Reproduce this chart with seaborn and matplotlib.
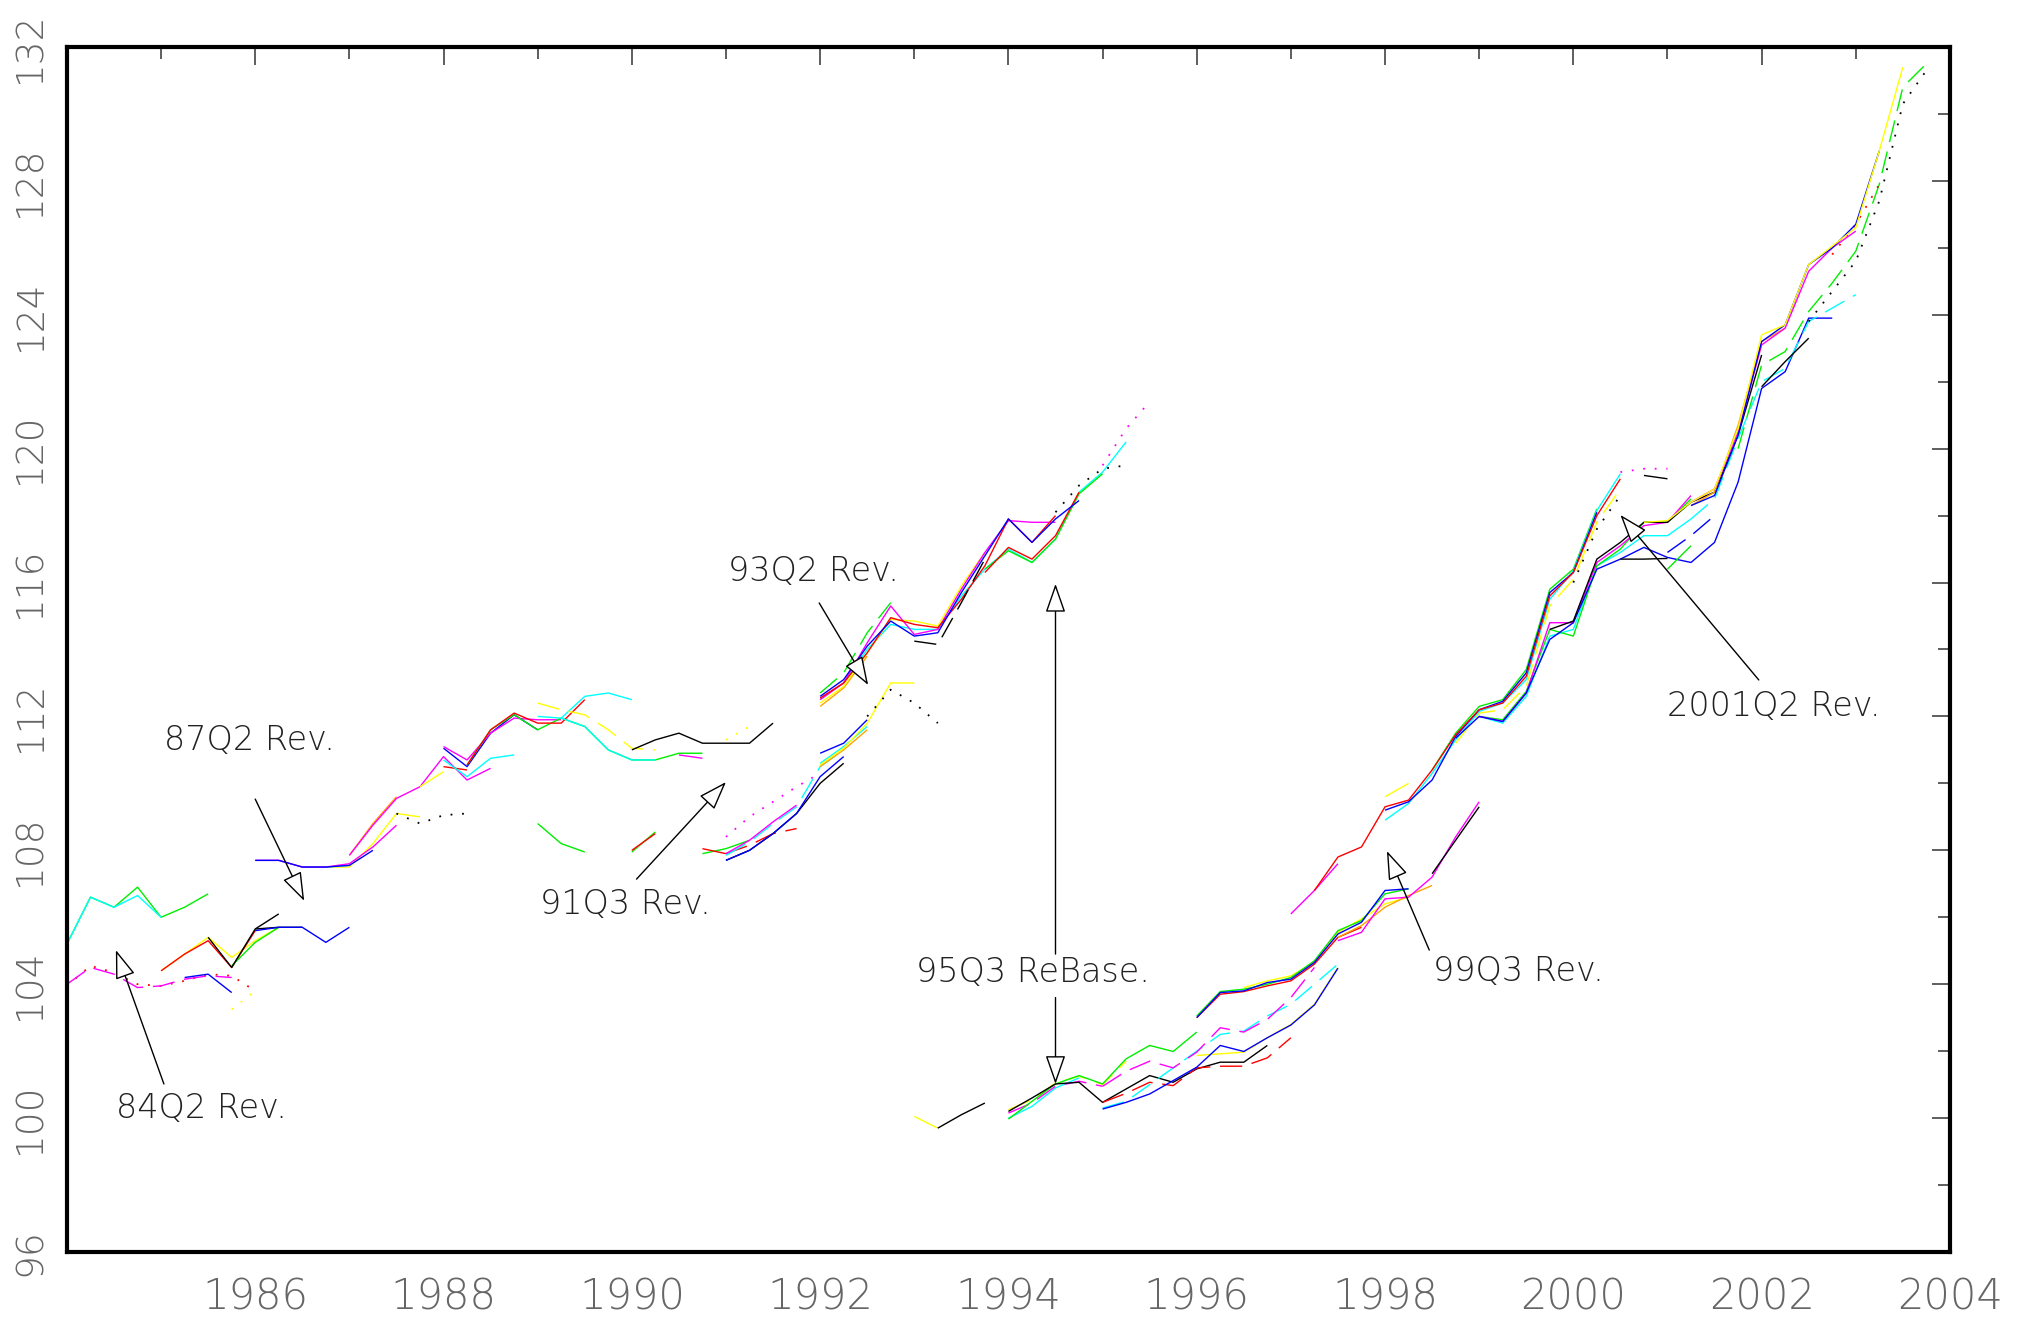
import numpy as np
import pandas as pd
import matplotlib
matplotlib.use("Agg")
import matplotlib.pyplot as plt
import seaborn as sns

nan = np.nan

# ---------------------------------------------------------------------------
# Real-time vintages of the price index.  Each list holds quarterly values
# starting at the quarter given in the VINTAGES table below; nan marks a gap.
# ---------------------------------------------------------------------------

# oldest vintages, 1984-1985
a84_green = [105.2, 106.6, 106.3, 106.9, 106.0, 106.3, 106.7]
a84_cyan = [105.2, 106.6, 106.3, 106.65, 106.0]

# 84Q2 revision
b84_magenta = [104.0, 104.5, 104.3, 103.9, 103.95, 104.15, 104.25, 104.2]
b84_red = [103.95, 104.55, 104.35, 104.0, 103.95, 104.1, 104.3, 104.25, 103.8]
b85_blue = [104.2, 104.3, 103.75]
b85_yellow = [103.25, 103.8]

c85_red = [104.4, 104.9, 105.3, 104.5, 105.6]
c85_yellow = [104.4, 104.9, 105.4, 104.8, 105.3, 105.7]
c85_black = [105.4, 104.5, 105.65, 106.1]
c86_black = [105.65, 105.7, 105.7]
c85_green = [104.55, 105.25, 105.7]
c86_blue = [105.6, 105.7, 105.7, 105.25, 105.7]

# 87Q2 revision
d86_blue = [107.7, 107.7, 107.5, 107.5, 107.55, 108.0]
d86_magenta = [107.7, 107.7, 107.5, 107.5, 107.6, 108.1, 108.75]
d86_cyan = [107.5, 107.5, 107.55]
d86_yellow = [107.5, 107.5, 107.5, 108.2, 109.1, 109.0]
d87_orange = [107.85, 108.8, 109.6]
d87_magenta = [107.85, 108.75, 109.55, 109.9, 110.8, 110.1, 110.45]
d87_black = [109.1, 108.8, 109.05, 109.1]
d87_yellow = [109.9, 110.35]
d88_red_a = [110.5, 110.4]
d88_blue = [111.05, 110.5, 111.5, 112.05, 111.6]
d88_magenta = [111.1, 110.7, 111.5, 111.95, 111.9, 111.9]
d88_red = [110.55, 111.6, 112.1, 111.8, 111.8, 112.5]
d88_green = [110.55, 111.6, 112.05, 111.6, 111.95, 111.7, 111.0, 110.7,
             110.7, 110.9, 110.9]
d88_cyan = [110.7, 110.2, 110.75, 110.85]
d89_cyan = [112.0, 111.95, 112.6, 112.7, 112.5]
d89_cyan_b = [111.95, 111.7, 111.0, 110.7, 110.7]
d89_yellow = [112.4, 112.2, 112.05, 111.6, 111.05, 111.0]
d90_magenta = [110.85, 110.75]
d90_black = [111.0, 111.3, 111.5, 111.2, 111.2, 111.2, 111.8]
d91_yellow = [111.3, 111.7]

# 91Q3 revision
e89_green = [108.8, 108.2, 107.95, nan, 107.95, 108.55, nan, 107.9, 108.05, 108.3]
e90_red = [108.0, 108.5, nan, 108.05, 107.9]
e91_red = [107.9, 108.15, 108.5, 108.65]
e91_blue = [107.7, 108.0, 108.5, 109.1, 110.2, 110.8]
e91_black = [107.7, 108.0, 108.5, 109.1, 110.0, 110.6]
e91_magenta = [107.9, 108.3, 108.85, 109.35]
e91_cyan = [107.85, 108.25, 108.8, 109.3, 110.5, 111.0]
e91_magenta_b = [108.4, 109.0, 109.45, 109.9, 110.3]
e92_blue = [110.9, 111.2, 111.9]
e92_yellow = [110.55, 111.05, 111.8, 113.0, 113.0]
e92_orange = [110.5, 111.0, 111.6]
e92_cyan = [110.6, 111.1, 111.7]
e92_black = [112.0, 112.8, 112.4, 111.8]

# 93Q2 revision
f92_magenta = [112.5, 113.0, 114.2, 115.3, 114.45, 114.6, 115.8, 116.9, 117.85,
               117.8, 117.8]
f92_red = [112.55, 113.0, 113.9, 114.95, 114.75, 114.65, 115.5, 116.5, 117.9,
           117.2, 118.0]
f92_blue = [112.6, 113.1, 114.1, 114.85, 114.4, 114.5, 115.7, 116.8, 117.9,
            117.2, 117.9, 118.45]
f92_green = [112.7, 113.3, 114.5, 115.4]
f92_yellow = [112.4, 112.9, 113.9, 114.9, 114.85, 114.7, 115.9, 116.9]
f92_orange = [112.3, 112.85, 113.8]
f92_cyan = [112.5, 113.0, 114.0, 114.75, 114.6, 114.6, 115.6, 116.4, 117.0,
            116.6, 117.3, 118.7, 119.3, 120.2]
f93_green = [116.4, 116.95, 116.6, 117.3, 118.65, 119.25]
f93_red = [116.3, 117.05, 116.7, 117.4, 118.7]
f93_black = [114.25, 114.15, 115.4, 116.7]
f94_black = [118.1, 118.9, 119.4, 119.5]
f95_magenta = [119.5, 120.6, 121.4]

# 95Q3 rebase
g93_yellow = [100.05, 99.7]
g93_black = [99.7, 100.1, 100.45]
g94_green = [99.97, 100.5, 101.02, 101.27, 101.02, 101.77, 102.17, 101.99, 102.57]
g94_black = [100.2, 100.6, 101.02, 101.07, 100.47, 100.87, 101.27, 101.07,
             101.47, 101.67, 101.67, 102.17]
g94_magenta = [100.15, 100.45, 100.95, 101.1, 100.95]
g94_cyan = [100.0, 100.35, 100.9, 101.2]
g94_yellow = [100.25, 100.55, 101.05, 101.25, 101.0, 101.7]
g95_blue = [100.27, 100.47, 100.72, 101.12, 101.52, 102.17, 101.99, 102.4,
            102.78, 103.38, 104.48]
g95_cyan = [100.3, 100.5, 101.0, 101.5, 102.0, 102.5, 102.6, 103.05, 103.4,
            104.0, 104.6]
g95_red = [100.47, 100.74, 101.07, 100.97, 101.5, 101.55, 101.55, 101.8, 102.4]
g95_magenta = [100.95, 101.4, 101.7, 101.5, 101.97, 102.7, 102.57, 102.95,
               103.6, 104.5]
g96_yellow = [101.87, 101.92, 101.97, 102.4, 102.8, 103.4, 104.5]
g96_green = [103.05, 103.78, 103.85, 104.0, 104.2, 104.7, 105.6, 105.9, 106.7,
             106.85]
g96_red = [103.0, 103.7, 103.78, 103.95, 104.1, 104.6, 105.4, 105.7]
g96_blue = [103.0, 103.75, 103.8, 104.05, 104.15, 104.65, 105.5, 105.85, 106.8,
            106.85]
g96_yellow_b = [103.9, 104.1, 104.25, 104.65, 105.55, 105.95, 106.4, 106.6]

# 99Q3 revision
h97_magenta = [105.3, 105.55, 106.55, 106.6, 107.2, 108.4, 109.45]
h97_orange = [105.4, 105.75, 106.3, 106.65, 106.95]
h98_black = [107.3, 108.3, 109.3]
i97_magenta = [106.1, 106.8, 107.6]
i97_red = [106.8, 107.8, 108.1, 109.3, 109.5, 110.4, 111.45, 112.2, 112.4,
           113.2, 115.6, 116.3, 118.0, 119.1]
i98_blue = [109.2, 109.45, 110.1, 111.4, 112.2, 112.45, 113.3, 115.7, 116.3, 118.1]
i98_cyan = [108.9, 109.4, 110.3, 111.3, 112.15, 112.4, 113.1, 115.5, 116.35,
            118.15, 119.25]
i98_yellow = [109.6, 110.0]
i98_yellow_b = [111.2, 112.1, 112.2, 112.9, 115.3, 116.1, 117.8, 118.8]
i98_green = [110.4, 111.5, 112.3, 112.5, 113.4, 115.8, 116.4, 118.2]
i00_black = [116.0, 117.6, 118.6]
i00_black_b = [119.2, 119.1]
i00_magenta = [119.3, 119.4, 119.4]

# 2001Q2 revision
j98_blue = [111.35, 112.0, 111.85, 112.7, 114.3, 114.8, 116.4, 116.7, 117.05,
            116.75, 116.6, 117.2, 119.0, 121.8, 122.3, 123.9, 123.9]
j99_magenta = [112.0, 111.85, 112.7, 114.8, 114.8, 116.6, 117.1, 117.7, 117.8,
               118.6]
j99_green = [112.0, 111.9, 112.75, 114.6, 114.4, 116.5, 117.0, 117.8, 117.8, 118.5]
j99_cyan = [112.0, 111.8, 112.6, 114.4, 114.6, 116.5, 116.9, 117.4, 117.4, 117.9]
j99_black = [114.6, 114.85, 116.7, 117.2, 117.8, 117.8, 118.4, 118.7, 120.4, 122.8]
j00_black = [116.7, 116.7, 116.72]
j01_blue = [116.9, 117.4, 118.0]
j01_green = [116.4, 117.1]
k00_yellow = [117.8, 117.85, 118.4, 118.8, 120.6, 123.4, 123.7, 125.5, 126.05,
              126.6, 128.9, 131.4]
k01_blue = [118.3, 118.6, 120.4, 123.2, 123.7, 125.5, 126.0, 126.7, 128.9]
k01_magenta = [118.4, 118.8, 120.5, 123.1, 123.6, 125.3, 126.0, 126.5]
k01_orange = [118.3, 118.7, 120.7, 123.2, 123.6]
k01_cyan = [117.9, 118.5, 120.3, 122.0, 122.4, 123.8, 124.2, 124.6]
k02_red = [125.8, 126.7, 127.9]
k02_black = [121.85, 122.6, 123.3]
k01_green = [120.0, 122.5, 122.9, 124.1, 124.95, 125.9, 127.9, 130.8, 131.5]
k02_black_b = [123.8, 124.7, 125.6, 127.4, 130.3, 131.3]

# annotation arrows: label, label anchor, arrow tails and tips
notes = ["84Q2 Rev.", "87Q2 Rev.", "91Q3 Rev.", "93Q2 Rev.", "95Q3 ReBase.",
         "99Q3 Rev.", "2001Q2 Rev."]
note_xy = [(1984.52, 100.3), (1985.03, 111.27), (1989.03, 106.37),
           (1991.02, 116.33), (1993.02, 104.35), (1998.51, 104.37),
           (2001.0, 112.31)]
arrow_tail = [(1985.03, 101.02), (1986.0, 109.53), (1990.05, 107.14),
              (1991.99, 115.39), (1994.5, 104.9), (1994.5, 103.6),
              (1998.47, 105.02), (2001.97, 113.09)]
arrow_tip = [(1984.52, 105.02), (1986.52, 106.49), (1991.0, 110.04),
             (1992.51, 112.94), (1994.5, 115.96), (1994.5, 101.02),
             (1998.02, 107.98), (2000.5, 118.02)]

x_ticks = [1986, 1988, 1990, 1992, 1994, 1996, 1998, 2000, 2002, 2004]
y_ticks = [96, 100, 104, 108, 112, 116, 120, 124, 128, 132]

# ---------------------------------------------------------------------------
COLOURS = {"k": "#000000", "r": "#ff0000", "g": "#00ee00", "b": "#0000ff",
           "c": "#00ffff", "m": "#ff00ff", "y": "#ffff00", "o": "#ffa500"}
SOLID, DASH, DOTS = "-", (0, (16, 7)), (0, (1.3, 7))

VINTAGES = [
    ("a84_green", 1984.0, a84_green, "g", SOLID),
    ("a84_cyan", 1984.0, a84_cyan, "c", SOLID),
    ("b84_red", 1984.0, b84_red, "r", DOTS),
    ("b84_magenta", 1984.0, b84_magenta, "m", DASH),
    ("b85_blue", 1985.25, b85_blue, "b", SOLID),
    ("b85_yellow", 1985.75, b85_yellow, "y", DOTS),
    ("c85_yellow", 1985.0, c85_yellow, "y", SOLID),
    ("c85_red", 1985.0, c85_red, "r", SOLID),
    ("c85_green", 1985.75, c85_green, "g", SOLID),
    ("c85_black", 1985.5, c85_black, "k", SOLID),
    ("c86_black", 1986.0, c86_black, "k", SOLID),
    ("c86_blue", 1986.0, c86_blue, "b", SOLID),
    ("d86_yellow", 1986.5, d86_yellow, "y", SOLID),
    ("d86_cyan", 1986.5, d86_cyan, "c", SOLID),
    ("d86_magenta", 1986.0, d86_magenta, "m", SOLID),
    ("d86_blue", 1986.0, d86_blue, "b", SOLID),
    ("d87_orange", 1987.0, d87_orange, "o", SOLID),
    ("d87_magenta", 1987.0, d87_magenta, "m", SOLID),
    ("d87_black", 1987.5, d87_black, "k", DOTS),
    ("d87_yellow", 1987.75, d87_yellow, "y", SOLID),
    ("d88_red_a", 1988.0, d88_red_a, "r", SOLID),
    ("d88_cyan", 1988.0, d88_cyan, "c", SOLID),
    ("d88_blue", 1988.0, d88_blue, "b", SOLID),
    ("d88_magenta", 1988.0, d88_magenta, "m", SOLID),
    ("d88_green", 1988.25, d88_green, "g", SOLID),
    ("d88_red", 1988.25, d88_red, "r", SOLID),
    ("d89_cyan_b", 1989.25, d89_cyan_b, "c", SOLID),
    ("d89_cyan", 1989.0, d89_cyan, "c", SOLID),
    ("d89_yellow", 1989.0, d89_yellow, "y", DASH),
    ("d90_magenta", 1990.5, d90_magenta, "m", SOLID),
    ("d90_black", 1990.0, d90_black, "k", SOLID),
    ("d91_yellow", 1991.0, d91_yellow, "y", DOTS),
    ("e89_green", 1989.0, e89_green, "g", SOLID),
    ("e90_red", 1990.0, e90_red, "r", SOLID),
    ("e91_red", 1991.0, e91_red, "r", DASH),
    ("e91_magenta_b", 1991.0, e91_magenta_b, "m", DOTS),
    ("e91_cyan", 1991.0, e91_cyan, "c", DASH),
    ("e91_magenta", 1991.0, e91_magenta, "m", SOLID),
    ("e91_black", 1991.0, e91_black, "k", SOLID),
    ("e91_blue", 1991.0, e91_blue, "b", SOLID),
    ("e92_orange", 1992.0, e92_orange, "o", SOLID),
    ("e92_cyan", 1992.0, e92_cyan, "c", SOLID),
    ("e92_yellow", 1992.0, e92_yellow, "y", SOLID),
    ("e92_blue", 1992.0, e92_blue, "b", SOLID),
    ("e92_black", 1992.5, e92_black, "k", DOTS),
    ("f92_orange", 1992.0, f92_orange, "o", SOLID),
    ("f92_green", 1992.0, f92_green, "g", DASH),
    ("f92_cyan", 1992.0, f92_cyan, "c", SOLID),
    ("f92_yellow", 1992.0, f92_yellow, "y", SOLID),
    ("f93_green", 1993.75, f93_green, "g", SOLID),
    ("f93_red", 1993.75, f93_red, "r", SOLID),
    ("f92_magenta", 1992.0, f92_magenta, "m", SOLID),
    ("f92_red", 1992.0, f92_red, "r", SOLID),
    ("f92_blue", 1992.0, f92_blue, "b", SOLID),
    ("f93_black", 1993.0, f93_black, "k", DASH),
    ("f94_black", 1994.5, f94_black, "k", DOTS),
    ("f95_magenta", 1995.0, f95_magenta, "m", DOTS),
    ("g93_yellow", 1993.0, g93_yellow, "y", SOLID),
    ("g93_black", 1993.25, g93_black, "k", SOLID),
    ("g94_cyan", 1994.0, g94_cyan, "c", SOLID),
    ("g94_yellow", 1994.0, g94_yellow, "y", DASH),
    ("g94_magenta", 1994.0, g94_magenta, "m", DASH),
    ("g94_green", 1994.0, g94_green, "g", SOLID),
    ("g94_black", 1994.0, g94_black, "k", SOLID),
    ("g95_cyan", 1995.0, g95_cyan, "c", DASH),
    ("g95_red", 1995.0, g95_red, "r", DASH),
    ("g95_magenta", 1995.0, g95_magenta, "m", DASH),
    ("g96_yellow", 1996.0, g96_yellow, "y", SOLID),
    ("g95_blue", 1995.0, g95_blue, "b", SOLID),
    ("g96_yellow_b", 1996.5, g96_yellow_b, "y", SOLID),
    ("g96_red", 1996.0, g96_red, "r", SOLID),
    ("g96_green", 1996.0, g96_green, "g", SOLID),
    ("g96_blue", 1996.0, g96_blue, "b", SOLID),
    ("h97_orange", 1997.5, h97_orange, "o", SOLID),
    ("h97_magenta", 1997.5, h97_magenta, "m", SOLID),
    ("h98_black", 1998.5, h98_black, "k", SOLID),
    ("i97_magenta", 1997.0, i97_magenta, "m", SOLID),
    ("i98_yellow", 1998.0, i98_yellow, "y", SOLID),
    ("i98_yellow_b", 1998.75, i98_yellow_b, "y", DASH),
    ("i98_green", 1998.5, i98_green, "g", SOLID),
    ("i98_cyan", 1998.0, i98_cyan, "c", SOLID),
    ("i98_blue", 1998.0, i98_blue, "b", SOLID),
    ("i97_red", 1997.25, i97_red, "r", SOLID),
    ("i00_black", 2000.0, i00_black, "k", DOTS),
    ("i00_magenta", 2000.5, i00_magenta, "m", DOTS),
    ("i00_black_b", 2000.75, i00_black_b, "k", SOLID),
    ("j99_cyan", 1999.0, j99_cyan, "c", SOLID),
    ("j99_green", 1999.0, j99_green, "g", SOLID),
    ("j99_magenta", 1999.0, j99_magenta, "m", SOLID),
    ("j98_blue", 1998.75, j98_blue, "b", SOLID),
    ("j99_black", 1999.75, j99_black, "k", SOLID),
    ("j00_black", 2000.5, j00_black, "k", SOLID),
    ("j01_blue", 2001.0, j01_blue, "b", DASH),
    ("j01_green", 2001.0, j01_green, "g", SOLID),
    ("k01_cyan", 2001.25, k01_cyan, "c", DASH),
    ("k02_black", 2002.0, k02_black, "k", SOLID),
    ("k01_green", 2001.75, k01_green, "g", DASH),
    ("k02_black_b", 2002.5, k02_black_b, "k", DOTS),
    ("k02_red", 2002.75, k02_red, "r", DOTS),
    ("k01_orange", 2001.25, k01_orange, "o", SOLID),
    ("k01_magenta", 2001.25, k01_magenta, "m", SOLID),
    ("k01_blue", 2001.25, k01_blue, "b", SOLID),
    ("k00_yellow", 2000.75, k00_yellow, "y", SOLID),
]

# long-form table; a nan splits a vintage into separate pieces
rows = []
for name, start, values, _, _ in VINTAGES:
    piece = 0
    for i, v in enumerate(values):
        if np.isnan(v):
            piece += 1
            continue
        rows.append((name, piece, start + 0.25 * i, v))
df = pd.DataFrame(rows, columns=["vintage", "piece", "quarter", "value"])

sns.set_style("white")
plt.rcParams["font.family"] = ["DejaVu Sans"]
plt.rcParams["font.weight"] = "light"
plt.rcParams["lines.scale_dashes"] = False
plt.rcParams["lines.solid_capstyle"] = "butt"

fig = plt.figure(figsize=(20.28, 13.24), dpi=100)
ax = fig.add_axes([0.033, 0.0544, 0.9285, 0.9101])

for name, start, values, col, dash in VINTAGES:
    sub = df[df["vintage"] == name]
    sns.lineplot(data=sub, x="quarter", y="value", units="piece",
                 estimator=None, sort=False, color=COLOURS[col],
                 linewidth=1.3 if dash is DOTS else 1.0, linestyle=dash,
                 legend=False, ax=ax)

ax.set_xlim(1984, 2004)
ax.set_ylim(96, 132)
ax.set_xlabel("")
ax.set_ylabel("")

ax.set_xticks(x_ticks)
ax.set_xticklabels([str(t) for t in x_ticks])
ax.set_xticks(np.arange(1985, 2004, 2), minor=True)
ax.set_yticks(y_ticks)
ax.set_yticklabels([str(t) for t in y_ticks], rotation=90, va="center")
ax.set_yticks(np.arange(98, 132, 4), minor=True)

ax.tick_params(which="both", direction="in", top=True, right=True,
               color="#333333", width=1.1)
ax.tick_params(which="major", length=13)
ax.tick_params(which="minor", length=8.5)
ax.tick_params(axis="x", which="major", labelsize=30, labelcolor="#666666", pad=18)
ax.tick_params(axis="y", which="major", labelsize=27, labelcolor="#666666", pad=14)

for side in ax.spines.values():
    side.set_visible(True)
    side.set_linewidth(3)
    side.set_color("black")

for label, (tx, ty) in zip(notes, note_xy):
    ax.text(tx, ty, label, ha="left", va="center", fontsize=24,
            color="#222222", fontweight="light")

for tail, tip in zip(arrow_tail, arrow_tip):
    ax.annotate("", xy=tip, xytext=tail,
                arrowprops=dict(arrowstyle="-|>,head_length=1.0,head_width=0.35",
                                mutation_scale=18, fc="white", ec="black",
                                lw=1.0, shrinkA=0, shrinkB=0))

fig.savefig("out.png", dpi=100, facecolor="white")
